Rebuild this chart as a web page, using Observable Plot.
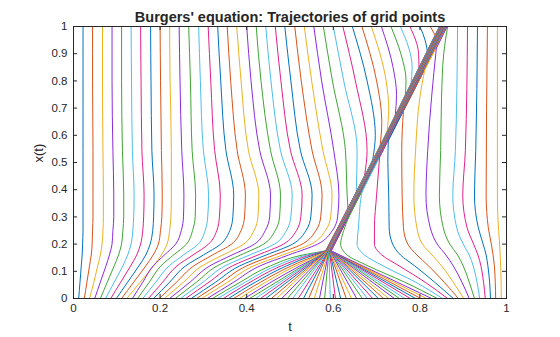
<!DOCTYPE html>
<html>
<head>
<meta charset="utf-8">
<script src="https://cdn.jsdelivr.net/npm/d3@7"></script>
<script src="https://cdn.jsdelivr.net/npm/@observablehq/plot@0.6"></script>
<style>
  html, body { margin: 0; padding: 0; background: #ffffff; }
</style>
</head>
<body>
<div id="chart"></div>
<script>
// ---------------- text ----------------
const titleText = "Burgers' equation: Trajectories of grid points";
const xLabel = "t";
const yLabel = "x(t)";
const xTicks = [0, 0.2, 0.4, 0.6, 0.8, 1];
const xTickLabels = ["0", "0.2", "0.4", "0.6", "0.8", "1"];
const yTicks = [0, 0.1, 0.2, 0.3, 0.4, 0.5, 0.6, 0.7, 0.8, 0.9, 1];
const yTickLabels = ["0", "0.1", "0.2", "0.3", "0.4", "0.5", "0.6", "0.7", "0.8", "0.9", "1"];

// line colour cycle (7 colours, repeated over the 80 trajectories)
const palette = ["#0072BD", "#D95319", "#EDB120", "#8C2BDB", "#3FA535", "#4DBEEE", "#E0208C"];

// ---------------- trajectories ----------------
// Lines 1-25: x read at these times (vertical axis values)
const leftTimes = [0, 0.06, 0.12, 0.16, 0.2, 0.25, 0.3, 0.38, 0.544, 0.8, 1];
const leftLines = [
  [.012,.015,.018,.020,.021,.022,.022,.022,.022,.022,.022],
  [.025,.031,.037,.041,.043,.044,.045,.045,.045,.044,.044],
  [.037,.047,.056,.062,.066,.068,.069,.069,.068,.067,.067],
  [.049,.062,.075,.083,.089,.091,.093,.093,.091,.089,.089],
  [.062,.078,.094,.104,.111,.114,.116,.116,.113,.111,.111],
  [.074,.094,.114,.125,.133,.137,.139,.140,.136,.134,.133],
  [.086,.109,.132,.146,.155,.160,.162,.163,.158,.156,.155],
  [.099,.125,.151,.167,.177,.183,.185,.186,.181,.179,.178],
  [.111,.139,.167,.184,.196,.201,.204,.205,.203,.201,.200],
  [.123,.154,.185,.203,.216,.222,.225,.226,.226,.223,.222],
  [.136,.160,.184,.210,.236,.249,.254,.255,.250,.246,.244],
  [.148,.175,.202,.231,.261,.275,.281,.282,.274,.270,.266],
  [.160,.190,.221,.254,.288,.304,.310,.312,.300,.293,.289],
  [.173,.206,.239,.276,.312,.331,.337,.339,.326,.317,.311],
  [.185,.222,.259,.300,.340,.361,.368,.370,.352,.340,.333],
  [.198,.238,.278,.321,.365,.387,.395,.397,.378,.363,.355],
  [.210,.254,.297,.345,.393,.417,.426,.428,.404,.387,.377],
  [.222,.269,.315,.366,.418,.443,.453,.455,.430,.410,.400],
  [.235,.284,.332,.386,.439,.466,.476,.478,.455,.433,.422],
  [.247,.299,.350,.407,.464,.492,.502,.505,.478,.456,.444],
  [.259,.313,.367,.426,.485,.515,.525,.528,.501,.479,.466],
  [.272,.328,.384,.445,.506,.537,.548,.551,.524,.502,.488],
  [.284,.342,.400,.464,.528,.560,.571,.574,.551,.526,.511],
  [.296,.356,.416,.483,.549,.582,.594,.597,.576,.550,.533],
  [.309,.370,.431,.497,.564,.598,.610,.613,.601,.573,.555]
];

// Lines 26-37: [t, x, kink]; they meet the front, ride it, then leave it
const exitLines = [
  [[0,.321],[.06,.385],[.12,.455],[.16,.530],[.175,.582,1],[.33,.634,1],[.38,.632],[.544,.628],[.8,.598],[1,.577]],
  [[0,.333],[.06,.397],[.12,.468],[.16,.540],[.175,.583,1],[.39,.653,1],[.544,.655],[.8,.624],[1,.600]],
  [[0,.346],[.06,.408],[.12,.480],[.16,.548],[.175,.583,1],[.45,.672,1],[.544,.678],[.8,.651],[1,.622]],
  [[0,.358],[.06,.420],[.12,.492],[.16,.555],[.175,.584,1],[.51,.691,1],[.6,.697],[.8,.678],[1,.644]],
  [[0,.370],[.06,.432],[.12,.503],[.16,.562],[.175,.584,1],[.56,.708,1],[.65,.712],[.8,.700],[1,.666]],
  [[0,.383],[.06,.444],[.12,.513],[.16,.567],[.175,.585,1],[.61,.724,1],[.7,.728],[.8,.722],[1,.688]],
  [[0,.395],[.06,.456],[.12,.523],[.16,.571],[.175,.585,1],[.67,.743,1],[.75,.746],[.85,.738],[1,.711]],
  [[0,.407],[.175,.586,1],[.74,.766,1],[.8,.768],[.9,.756],[1,.733]],
  [[0,.420],[.175,.586,1],[.78,.779,1],[.85,.782],[1,.755]],
  [[0,.432],[.175,.586,1],[.84,.798,1],[.9,.797],[1,.777]],
  [[0,.444],[.175,.587,1],[.90,.818,1],[.95,.812],[1,.800]],
  [[0,.457],[.175,.587,1],[.96,.838,1],[1,.824]]
];

// Lines 38-67: straight into the meeting point, then inside the front to the top
const bandMeetT = 0.175;
const bandStart = [.469,.481,.494,.506,.519,.531,.543,.556,.568,.580,.593,.605,.617,.630,.642,
                   .654,.667,.679,.691,.704,.716,.728,.741,.753,.765,.778,.790,.802,.815,.827];
const bandMeet  = [.587,.588,.588,.588,.589,.589,.589,.590,.590,.590,.590,.591,.591,.591,.591,
                   .592,.592,.592,.592,.593,.593,.593,.593,.594,.594,.594,.594,.595,.595,.595];
const bandTop   = [.845,.845,.846,.846,.847,.847,.848,.848,.849,.849,.850,.850,.851,.851,.852,
                   .852,.853,.853,.854,.854,.855,.855,.856,.856,.857,.857,.858,.858,.859,.859];

// Lines 68-80: [t, x, kink]; the first ones are swept into the front later
const rightLines = [
  [[0,.840],[.06,.765],[.12,.680],[.16,.632],[.2,.617],[.25,.624],[.3,.636,1],[1,.860]],
  [[0,.852],[.06,.790],[.12,.715],[.16,.672],[.2,.655],[.26,.658],[.38,.665],[.42,.675,1],[1,.860]],
  [[0,.864],[.06,.812],[.12,.752],[.16,.712],[.2,.695],[.26,.695],[.38,.700],[.52,.707,1],[1,.861]],
  [[0,.877],[.06,.834],[.12,.788],[.16,.755],[.2,.737],[.26,.729],[.38,.728],[.5,.726],[.58,.727,1],[1,.861]],
  [[0,.889],[.06,.856],[.12,.820],[.16,.793],[.2,.772],[.26,.762],[.38,.759],[.544,.758],[.69,.762,1],[1,.862]],
  [[0,.901],[.06,.877],[.12,.850],[.16,.828],[.2,.806],[.26,.793],[.38,.786],[.544,.790],[.74,.800],[.84,.811,1],[1,.862]],
  [[0,.914],[.06,.897],[.12,.877],[.16,.860],[.2,.840],[.26,.824],[.38,.814],[.544,.818],[.74,.827],[.92,.838,1],[1,.863]],
  [[0,.926],[.06,.914],[.12,.900],[.16,.887],[.2,.869],[.26,.854],[.38,.845],[.544,.848],[.74,.850],[.9,.855],[1,.864]],
  [[0,.938],[.06,.932],[.12,.923],[.16,.914],[.2,.900],[.26,.885],[.38,.876],[.544,.882],[1,.887]],
  [[0,.951],[.06,.947],[.12,.941],[.16,.934],[.2,.924],[.26,.909],[.38,.899],[.544,.905],[1,.910]],
  [[0,.963],[.06,.961],[.12,.957],[.16,.953],[.2,.946],[.26,.935],[.38,.926],[.544,.929],[1,.933]],
  [[0,.975],[.06,.974],[.12,.972],[.16,.969],[.2,.965],[.26,.958],[.38,.953],[1,.956]],
  [[0,.988],[.1,.987],[.2,.984],[.3,.980],[.38,.979],[1,.979]]
];

// ---------------- build table ----------------
const rows = [];
function addLine(id, pts) {
  let seg = 0;
  const color = palette[(id - 1) % palette.length];
  pts.forEach((p, k) => {
    rows.push({key: id + "-" + seg, id, t: p[0], x: p[1], color});
    if (p[2] && k < pts.length - 1) {
      seg++;
      rows.push({key: id + "-" + seg, id, t: p[0], x: p[1], color});
    }
  });
}
let lineId = 1;
leftLines.forEach(xs => addLine(lineId++, xs.map((x, k) => [leftTimes[k], x])));
exitLines.forEach(p => addLine(lineId++, p));
bandStart.forEach((x0, k) => addLine(lineId++, [[0, x0], [bandMeetT, bandMeet[k], 1], [1, bandTop[k]]]));
rightLines.forEach(p => addLine(lineId++, p));

// ---------------- plot ----------------
const W = 560, H = 337, mL = 73, mR = 54, mT = 26, mB = 39;
const innerW = W - mL - mR, innerH = H - mT - mB, tickLen = 4;
const axisColor = "#262626";

const chart = Plot.plot({
  width: W, height: H,
  marginLeft: mL, marginRight: mR, marginTop: mT, marginBottom: mB,
  x: {domain: [0, 1], axis: null},
  y: {domain: [0, 1], axis: null},
  color: {type: "identity"},
  style: {fontFamily: "'Liberation Sans', Arial, Helvetica, sans-serif", background: "#ffffff", color: axisColor},
  marks: [
    Plot.line(rows, {x: "x", y: "t", z: "key", stroke: "color", strokeWidth: 1, curve: "monotone-y"}),
    Plot.frame({stroke: axisColor, strokeWidth: 1}),
    Plot.tickX(xTicks, {x: d => d, stroke: axisColor, insetTop: innerH - tickLen}),
    Plot.tickX(xTicks, {x: d => d, stroke: axisColor, insetBottom: innerH - tickLen}),
    Plot.tickY(yTicks, {y: d => d, stroke: axisColor, insetRight: innerW - tickLen}),
    Plot.tickY(yTicks, {y: d => d, stroke: axisColor, insetLeft: innerW - tickLen}),
    Plot.text(xTicks, {x: d => d, frameAnchor: "bottom", dy: 13, text: (d, i) => xTickLabels[i], fontSize: 11.5, fill: axisColor}),
    Plot.text(yTicks, {y: d => d, frameAnchor: "left", dx: -6, textAnchor: "end", text: (d, i) => yTickLabels[i], fontSize: 11.5, fill: axisColor}),
    Plot.text([xLabel], {frameAnchor: "bottom", dy: 32, text: d => d, fontSize: 13, fill: axisColor}),
    Plot.text([yLabel], {frameAnchor: "left", dx: -35, rotate: -90, text: d => d, fontSize: 13, fill: axisColor}),
    Plot.text([titleText], {frameAnchor: "top", dy: -15, text: d => d, fontSize: 14.5, fontWeight: "bold", fill: axisColor})
  ]
});
document.getElementById("chart").appendChild(chart);
</script>
</body>
</html>
